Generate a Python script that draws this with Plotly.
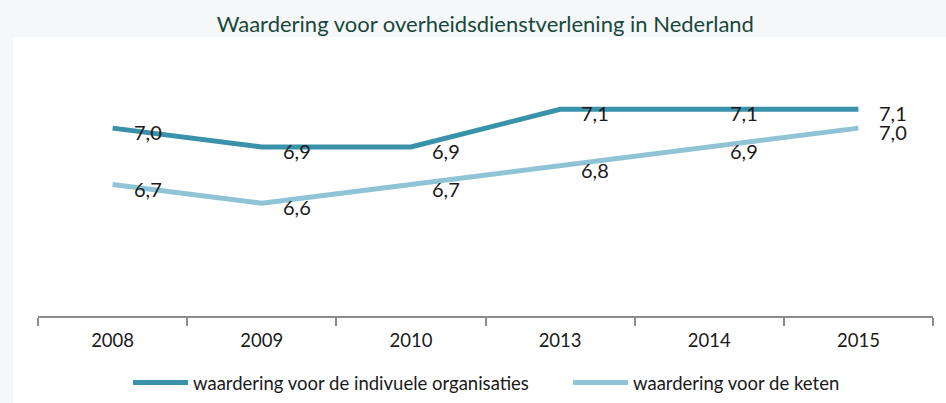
import plotly.graph_objects as go

# data
jaren = ["2008", "2009", "2010", "2013", "2014", "2015"]
organisaties = [7.0, 6.9, 6.9, 7.1, 7.1, 7.1]
keten = [6.7, 6.6, 6.7, 6.8, 6.9, 7.0]

naam_org = "waardering voor de indivuele organisaties"
naam_keten = "waardering voor de keten"
titel = "Waardering voor overheidsdienstverlening in Nederland"

DONKER = "#3a91aa"
LICHT = "#8fc4d6"
PAGINA = "#f6f7f9"
FONT = "Lato"

fig = go.Figure()

fig.add_trace(go.Scatter(
    x=jaren, y=organisaties, name=naam_org, mode="lines",
    line=dict(color=DONKER, width=5),
    hoverinfo="skip",
))
fig.add_trace(go.Scatter(
    x=jaren, y=keten, name=naam_keten, mode="lines",
    line=dict(color=LICHT, width=5),
    hoverinfo="skip",
))

# datalabels rechts van de punten, met komma als decimaalteken
for reeks in (organisaties, keten):
    for i, waarde in enumerate(reeks):
        fig.add_annotation(
            xref="x", yref="y", x=i, y=waarde,
            text=f"{waarde:.1f}".replace(".", ","),
            showarrow=False, xshift=35, yshift=-4,
            font=dict(family=FONT, size=20, color="#1a1a1a"),
        )

# witte achtergrond van de grafiek op een lichtgrijze pagina
fig.add_shape(
    type="rect", xref="paper", yref="paper",
    x0=-0.028, x1=1.02, y0=-0.34, y1=1.06,
    fillcolor="white", line=dict(width=0), layer="below",
)

fig.update_layout(
    width=946, height=403,
    margin=dict(l=38, r=13, t=53, b=87, autoexpand=False),
    paper_bgcolor=PAGINA,
    plot_bgcolor="white",
    title=dict(
        text=titel, x=0.513, xanchor="center", y=0.94, yanchor="middle",
        font=dict(family=FONT, size=22, color="#17483a"),
    ),
    xaxis=dict(
        type="category", range=[-0.5, 5.5],
        showline=True, linecolor="#8c8c8c", linewidth=1.5,
        ticks="outside", tickson="boundaries", ticklen=8,
        tickcolor="#8c8c8c", tickwidth=1.5,
        showgrid=False, zeroline=False,
        tickfont=dict(family=FONT, size=18.5, color="#1a1a1a"),
        ticklabelstandoff=7,
    ),
    yaxis=dict(
        range=[6.0, 7.4], showticklabels=False, showgrid=False,
        zeroline=False, showline=False, ticks="",
    ),
    showlegend=True,
    legend=dict(
        orientation="h", x=0.1006, xanchor="left", y=-0.255, yanchor="middle",
        font=dict(family=FONT, size=18.5, color="#1a1a1a"),
        bgcolor="rgba(0,0,0,0)", itemwidth=55, entrywidth=370,
    ),
)

fig.write_html(
    "out.html",
    config={"displayModeBar": False},
    post_script=f"document.body.style.margin='0';document.body.style.background='{PAGINA}';",
)
